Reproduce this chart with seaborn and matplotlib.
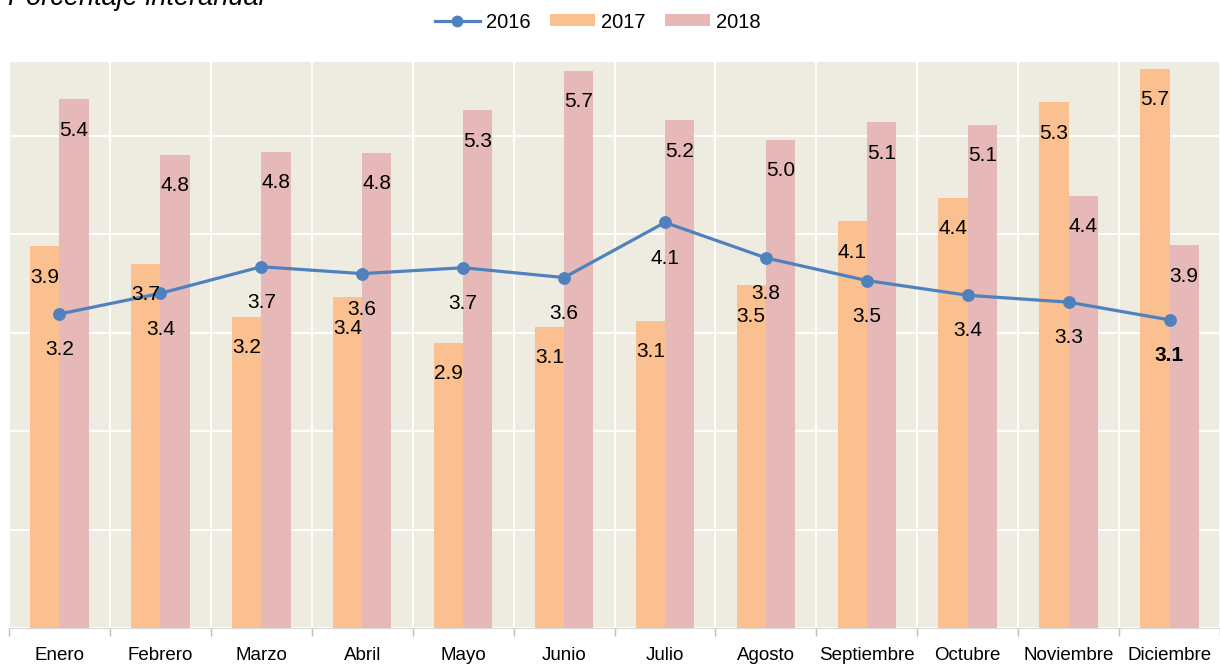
import numpy as np
import pandas as pd
import matplotlib
matplotlib.use('Agg')
import matplotlib.pyplot as plt
from matplotlib.lines import Line2D
from matplotlib.patches import Patch
import seaborn as sns

plt.rcParams['font.family'] = ['Liberation Sans', 'DejaVu Sans']

# datos
meses = ['Enero', 'Febrero', 'Marzo', 'Abril', 'Mayo', 'Junio', 'Julio',
         'Agosto', 'Septiembre', 'Octubre', 'Noviembre', 'Diciembre']
v2016 = [3.19, 3.40, 3.67, 3.60, 3.66, 3.56, 4.12, 3.76, 3.53, 3.38, 3.31, 3.13]
v2017 = [3.88, 3.70, 3.16, 3.36, 2.90, 3.06, 3.12, 3.48, 4.13, 4.37, 5.34, 5.68]
v2018 = [5.37, 4.81, 4.84, 4.83, 5.26, 5.66, 5.16, 4.96, 5.14, 5.11, 4.39, 3.89]

azul = '#4F81BD'
naranja = '#FAC090'
rosa = '#E6B9B8'
fondo = '#EEECE1'

df = pd.DataFrame({
    'Mes': meses * 2,
    'Año': ['2017'] * 12 + ['2018'] * 12,
    'Valor': v2017 + v2018,
})

fig = plt.figure(figsize=(12.2, 6.67), dpi=100)
ax = fig.add_axes([9 / 1220, 39 / 667, 1211 / 1220, 566 / 667])
ax.set_facecolor(fondo)
ax.set_axisbelow(True)

sns.barplot(data=df, x='Mes', y='Valor', hue='Año', palette=[naranja, rosa],
            width=0.58, saturation=1, linewidth=0, legend=False, ax=ax)

# etiquetas de barras
for cont in ax.containers:
    for bar in cont:
        h = bar.get_height()
        ax.annotate(f'{h:.1f}', (bar.get_x() + bar.get_width() / 2, h),
                    xytext=(0, -22.3), textcoords='offset points',
                    ha='center', va='center', fontsize=15, color='black')

sns.pointplot(x=meses, y=v2016, color=azul, markers='o', markersize=7.5,
              linewidth=2.3, ax=ax)

for i, v in enumerate(v2016):
    ax.annotate(f'{v:.1f}', (i, v), xytext=(0, -25.7), textcoords='offset points',
                ha='center', va='center', fontsize=15, color='black',
                fontweight='bold' if i == len(v2016) - 1 else 'normal')

ax.set_xlim(-0.5, 11.5)
ax.set_ylim(0, 5.75)
ax.set_xlabel('')
ax.set_ylabel('')
ax.set_yticks(range(0, 6))
ax.set_xticks(np.arange(-0.5, 12, 1), minor=True)
ax.yaxis.grid(True, color='white', lw=1.4)
ax.xaxis.grid(True, which='minor', color='white', lw=1.4)
ax.xaxis.grid(False, which='major')
ax.tick_params(axis='y', left=False, labelleft=False)
ax.tick_params(axis='x', which='major', length=0, pad=14, labelsize=13.5)
ax.tick_params(axis='x', which='minor', length=6, color='#BFBFBF', width=1)
for s in ['left', 'top', 'right']:
    ax.spines[s].set_visible(False)
ax.spines['bottom'].set_color('#D9D9D9')

fig.text(8 / 1220, 1 - 5 / 667, 'Porcentaje interanual', style='italic',
         fontsize=19.5, ha='left', va='baseline')

handles = [Line2D([0], [0], color=azul, lw=2.3, marker='o', markersize=7.5),
           Patch(facecolor=naranja), Patch(facecolor=rosa)]
fig.legend(handles, ['2016', '2017', '2018'], loc='center',
           bbox_to_anchor=(0.49, 0.967), ncol=3, frameon=False, fontsize=14.5,
           handlelength=2.2, handleheight=0.55, handletextpad=0.3,
           columnspacing=1.0)

fig.savefig('out.png', dpi=100)
